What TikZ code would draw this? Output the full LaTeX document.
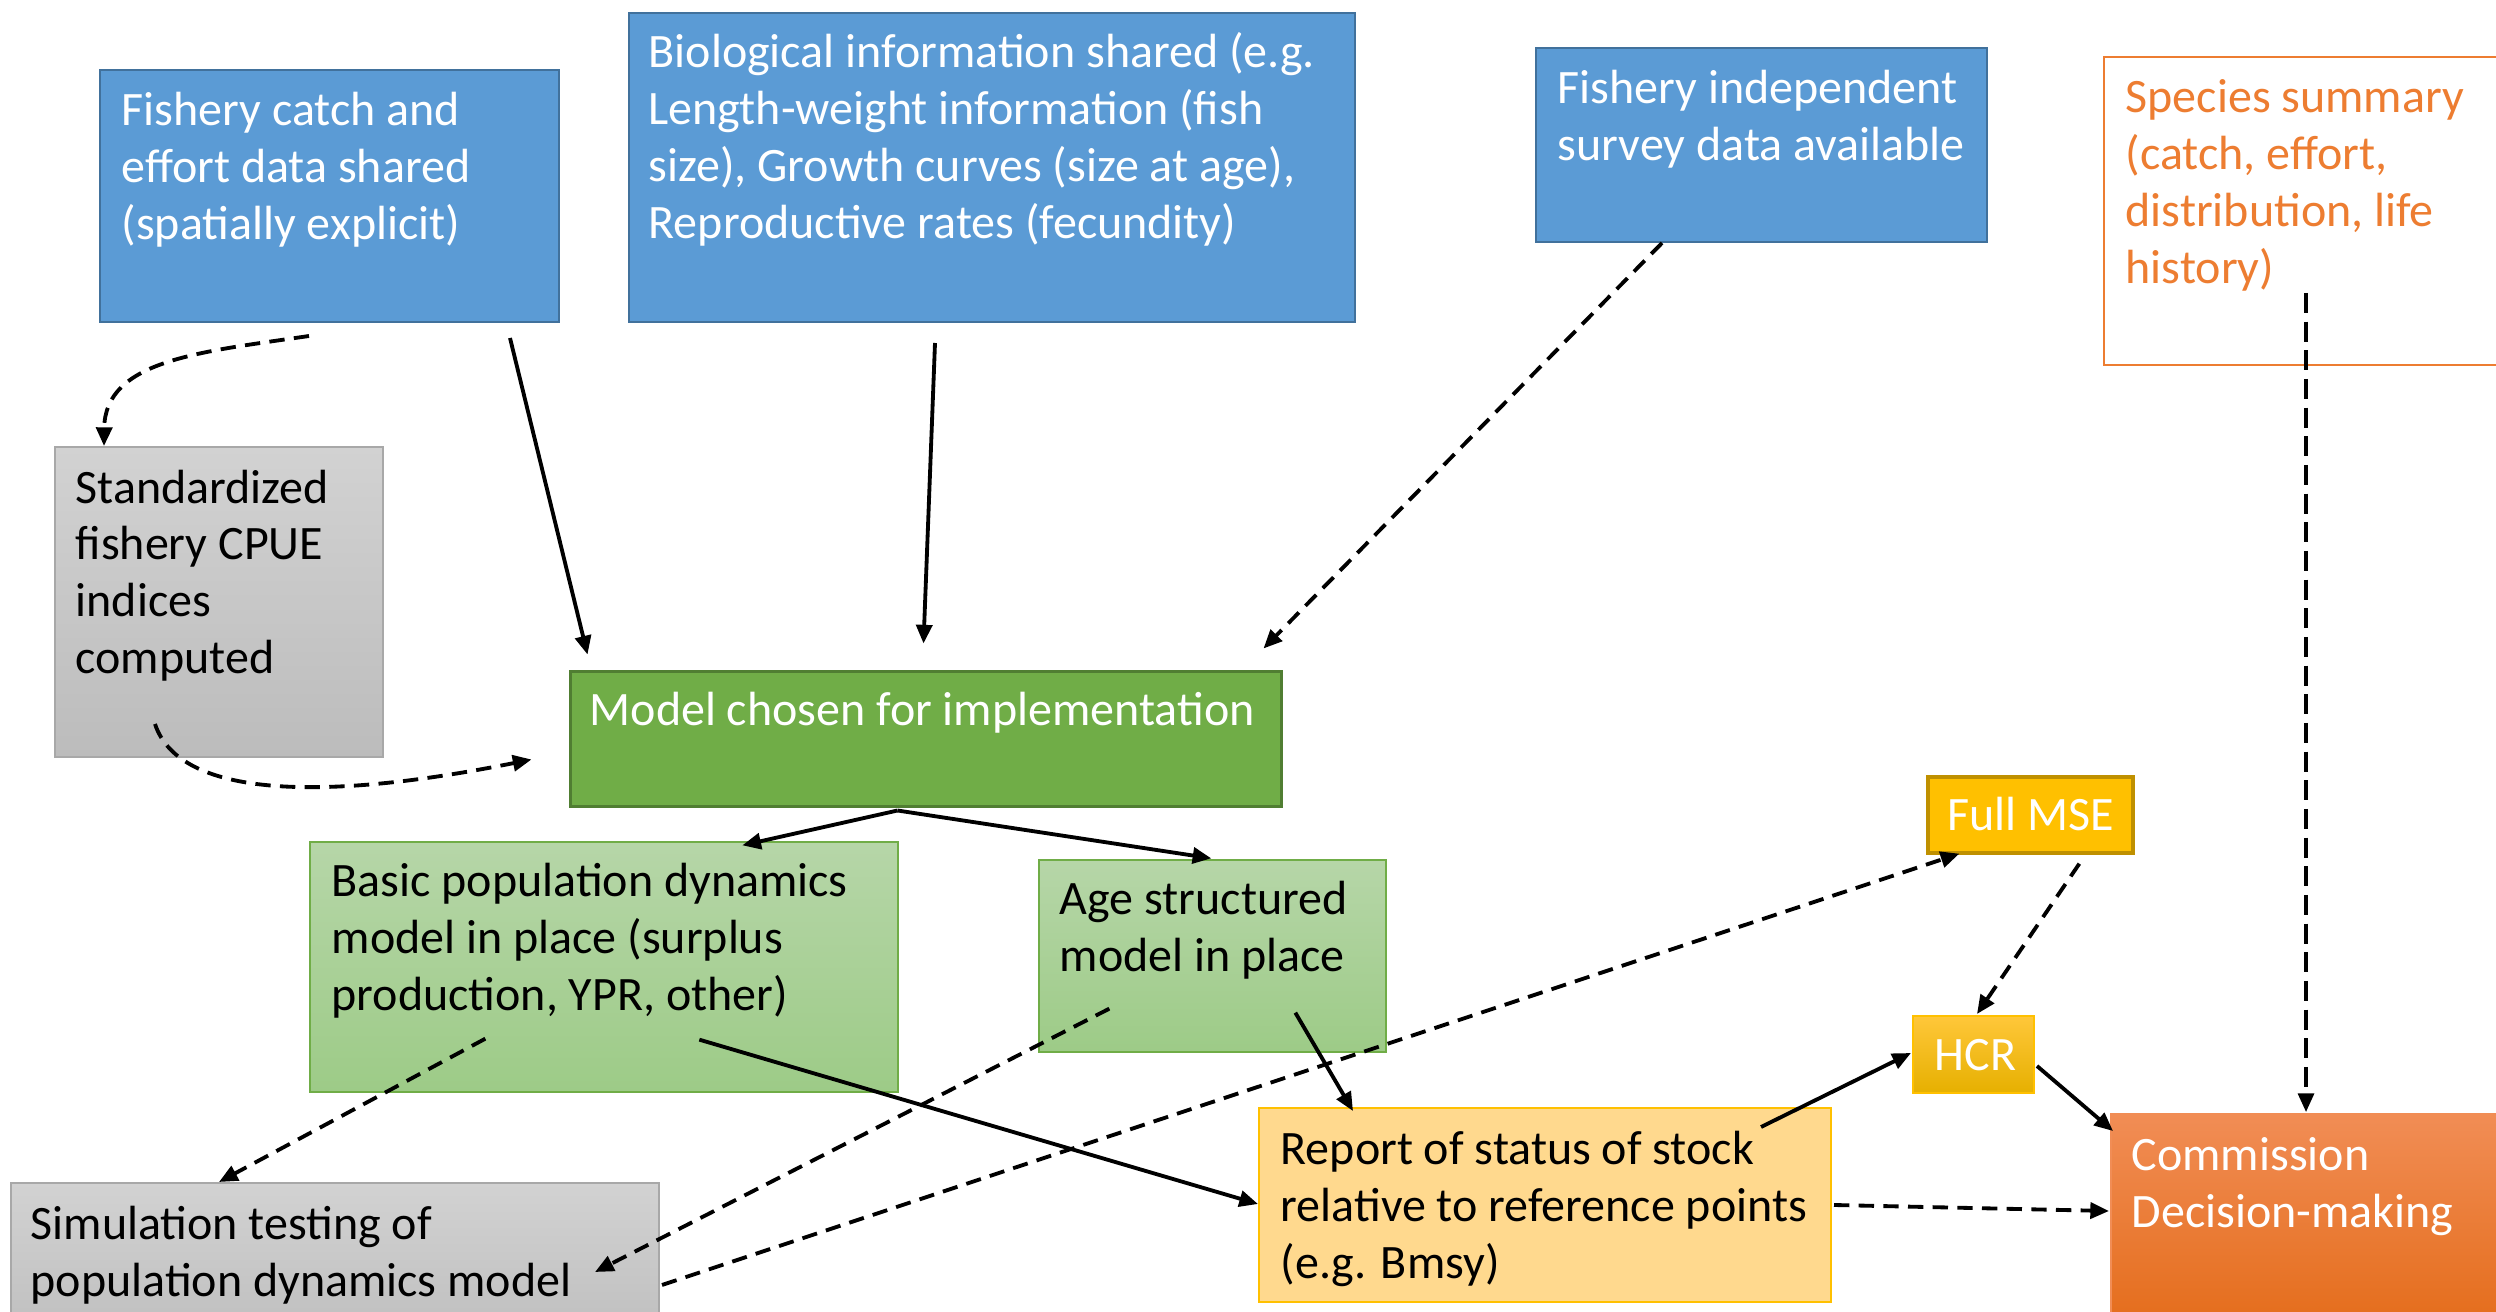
\documentclass[tikz,border=0pt]{standalone}
\usepackage{fontspec}
\setmainfont{Carlito}
\usetikzlibrary{arrows.meta,fit}
\definecolor{bfill}{HTML}{5B9BD5}
\definecolor{bline}{HTML}{41719C}
\definecolor{gfill}{HTML}{70AD47}
\definecolor{gline}{HTML}{507E32}
\definecolor{lgtop}{HTML}{B6D6A8}
\definecolor{lgbot}{HTML}{9DCB87}
\definecolor{graytop}{HTML}{D2D2D2}
\definecolor{graybot}{HTML}{BCBCBC}
\definecolor{grayline}{HTML}{A8A8A8}
\definecolor{repfill}{HTML}{FFD98E}
\definecolor{yel}{HTML}{FFC000}
\definecolor{yelline}{HTML}{BF9000}
\definecolor{hcrtop}{HTML}{FFC73A}
\definecolor{hcrbot}{HTML}{E6B000}
\definecolor{orline}{HTML}{ED7D31}
\definecolor{comtop}{HTML}{F18D55}
\definecolor{combot}{HTML}{E46C1A}
\tikzset{
  x=0.3pt, y=-0.3pt,
  box/.style={inner sep=0pt, line width=0.6pt},
  txt/.style={inner sep=0pt, anchor=base west, align=left,
    font=\fontsize{14.4}{17.1}\selectfont},
  wtxt/.style={txt, text=white},
  tip/.style={-{Triangle[length=5.6pt,width=4.8pt]}},
  solidarrow/.style={tip, line width=1.15pt},
  dasharrow/.style={tip, line width=1.15pt, dash pattern=on 4.6pt off 2.8pt},
  longdash/.style={tip, line width=0.95pt, dash pattern=on 6pt off 2.6pt},
}
\begin{document}
\begin{tikzpicture}
\useasboundingbox (0,0) rectangle (2496,1312);
\clip (0,0) rectangle (2496,1312);
\fill[white] (0,0) rectangle (2496,1312);
% boxes
\node[box, draw=bline, fill=bfill, fit={(100,70)(559,322)}] (catch) {};
\node[box, draw=bline, fill=bfill, fit={(629,13)(1355,322)}] (bio) {};
\node[box, draw=bline, fill=bfill, fit={(1536,48)(1987,242)}] (indep) {};
\node[box, draw=orline, fill=white, fit={(2104,57)(2530,365)}] (species) {};
\node[box, draw=grayline, top color=graytop, bottom color=graybot, fit={(55,447)(383,757)}] (std) {};
\node[box, draw=gline, fill=gfill, line width=0.9pt, fit={(570,672)(1281,806)}] (model) {};
\node[box, draw=gfill, top color=lgtop, bottom color=lgbot, line width=0.4pt, fit={(310,842)(898,1092)}] (basic) {};
\node[box, draw=gfill, top color=lgtop, bottom color=lgbot, line width=0.4pt, fit={(1039,860)(1386,1052)}] (age) {};
\node[box, draw=grayline, top color=graytop, bottom color=graybot, fit={(11,1183)(659,1360)}] (sim) {};
\node[box, draw=yel, fill=repfill, fit={(1259,1108)(1831,1302)}] (report) {};
\node[box, draw=yelline, fill=yel, line width=1pt, fit={(1928,777)(2133,853)}] (mse) {};
\node[box, draw=yel, top color=hcrtop, bottom color=hcrbot, fit={(1913,1016)(2034,1093)}] (hcr) {};
\node[box, draw=comtop, top color=comtop, bottom color=combot, fit={(2111,1114)(2530,1330)}] (comm) {};
% texts (anchored at the baseline of their last line)
\node[wtxt] (catchT) at (121,240) {Fishery catch and\\effort data shared\\(spatially explicit)};
\node[wtxt] (bioT) at (648,239) {Biological information shared (e.g.\\Length-weight information (fish\\size), Growth curves (size at age),\\Reproductive rates (fecundity)};
\node[wtxt] (indepT) at (1557,161) {Fishery independent\\survey data available};
\node[txt, text=orline] (speciesT) at (2125,284) {Species summary\\(catch, effort,\\distribution, life\\history)};
\node[txt] (stdT) at (75,674) {Standardized\\fishery CPUE\\indices\\computed};
\node[wtxt] (modelT) at (589,726) {Model chosen for implementation};
\node[txt] (basicT) at (331,1010) {Basic population dynamics\\model in place (surplus\\production, YPR, other)};
\node[txt] (ageT) at (1059,971) {Age structured\\model in place};
\node[txt] (simT) at (30,1296) {Simulation testing of\\population dynamics model};
\node[txt] (reportT) at (1280,1278) {Report of status of stock\\relative to reference points\\(e.g. Bmsy)};
\node[wtxt] (mseT) at (1947,831) {Full MSE};
\node[wtxt] (hcrT) at (1934,1070) {HCR};
\node[wtxt] (commT) at (2131,1227) {Commission\\Decision-making};
% connectors
\draw[dasharrow] ([shift={(210,13)}]catch.south west) .. controls (200,352) and (105,360) .. ([shift={(50,0)}]std.north west);
\draw[dasharrow] ([shift={(101,-34)}]std.south west) .. controls (180,800) and (330,800) .. ([shift={(-37,-48)}]model.south west);
\draw[solidarrow] ([shift={(411,15)}]catch.south west) -- ([shift={(19,-16)}]model.north west);
\draw[solidarrow] ([shift={(307,20)}]bio.south west) -- ([shift={(355,-27)}]model.north west);
\draw[dasharrow] ([shift={(127,0)}]indep.south west) -- ([shift={(-19,-22)}]model.north east);
\draw[solidarrow] ([shift={(329,3)}]model.south west) -- ([shift={(433,4)}]basic.north west);
\draw[solidarrow] ([shift={(329,3)}]model.south west) -- ([shift={(173,-1)}]age.north west);
\draw[dasharrow] ([shift={(176,-54)}]basic.south west) -- ([shift={(209,0)}]sim.north west);
\draw[dasharrow] ([shift={(71,-44)}]age.south west) -- ([shift={(-65,90)}]sim.north east);
\draw[dasharrow] ([shift={(2,103)}]sim.north east) -- ([shift={(33,-1)}]mse.south west);
\draw[solidarrow] ([shift={(390,-53)}]basic.south west) -- ([shift={(0,97)}]report.north west);
\draw[solidarrow] ([shift={(257,-40)}]age.south west) -- ([shift={(95,4)}]report.north west);
\draw[solidarrow] ([shift={(503,20)}]report.north west) -- ([shift={(-1,38)}]hcr.north west);
\draw[solidarrow] ([shift={(2,51)}]hcr.north east) -- ([shift={(3,18)}]comm.north west);
\draw[dasharrow] ([shift={(153,9)}]mse.south west) -- ([shift={(65,-1)}]hcr.north west);
\draw[dasharrow] ([shift={(2,98)}]report.north east) -- ([shift={(-1,98)}]comm.north west);
\draw[longdash] ([shift={(203,237)}]species.north west) -- ([shift={(196,-1)}]comm.north west);
\end{tikzpicture}
\end{document}
